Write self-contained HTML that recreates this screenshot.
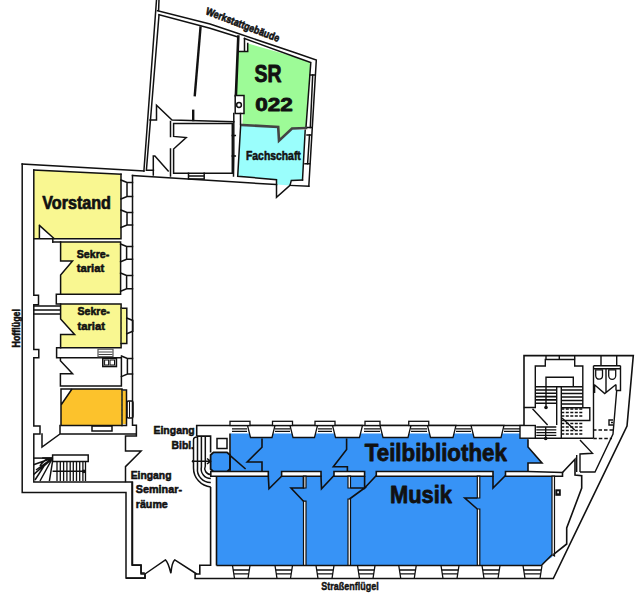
<!DOCTYPE html>
<html><head><meta charset="utf-8">
<style>
html,body{margin:0;padding:0;background:#fff;}
svg{display:block;}
</style></head><body>
<svg width="639" height="600" viewBox="0 0 639 600">
<rect width="639" height="600" fill="#fff"/>
<g stroke="none">
<polygon fill="#9dfb97" points="238.3,51.6 247.7,51.6 247.7,43.5 296,57.2 310.8,62.5 306,127 292,128.5 279,140.7 278.2,127 242.5,124.5 243,113.5 244,113.5 244,95.5 236,95.5"/>
<polygon fill="#9afefc" points="240.7,124.5 278.2,127.2 279,140.7 291.7,128.7 305.2,130.2 302.5,180 291.3,180.4 290,185.4 276.5,184.6 276.5,179.7 237.7,176.2"/>
<polygon fill="#f9f791" points="34,170 121,174.2 121,238.7 54.3,238.7 39.4,225.4 39.4,238.7 34,238.7"/>
<polygon fill="#f9f791" points="60.6,242 120.6,242 120.6,294.2 60.6,294.2 60.6,275 72.5,261 60.6,261"/>
<polygon fill="#f9f791" points="60.6,304.1 121.1,304.1 121.1,347.7 60.6,347.7 60.6,334.4 74.6,334.4 60.6,319"/>
<polygon fill="#f9f791" points="121.1,308.3 126.8,308.3 126.8,343.5 121.1,343.5"/>
<polygon fill="#fcc22c" points="61,389 122,389 122,425.6 61,425.6 61,405 72,389"/>
<polygon fill="#fcc22c" points="122,391 126,391 126,424 122,424"/>
<polygon fill="#3793f6" points="230.5,433.5 528,433.5 528,447 542,463 528,463 528,472 552.4,472 552.4,556.7 540,565.5 216.5,565.5 216.5,472 230,472"/>
<path fill="#3793f6" stroke="#111" stroke-width="1.8" d="M213.5,452.3 L227,452.3 L230,455 L230,469 L227,471.7 L213.5,471.7 L210.6,469 L210.6,455 Z"/>
</g>
<g fill="none" stroke="#111" stroke-width="1.5" stroke-linejoin="miter" stroke-linecap="square">

<path d="M156.5,0 L143.9,171"/>
<path d="M159,0 L158.6,10.5"/>
<path d="M159,15 L146.4,170.3 L153.4,170.3"/>
<path d="M157.5,10.8 L210,24 L236,32.8 L296,53 L316.3,60 L308.8,186.3"/>
<path d="M159,14.6 L210,28.2 L238,37 M244.5,38.5 L296,57.2 L310.8,62.5 L306,127 M305.2,130.2 L302.5,180"/>
<path d="M132.5,175.6 L276.5,184.6 M290,185.4 L308.8,186.3"/>
<path d="M22.2,164 L143.9,171"/>


<path d="M200.5,27.5 L194.8,95.2" stroke-width="2.4"/>
<path d="M193.2,110.8 L193.2,120" stroke-width="2.4"/>
<path d="M150,120 L156.5,120 L156.5,105.3 L172,120 L233.8,121.7"/>
<path d="M238.3,36.5 L235.9,95.5" stroke-width="2.6"/>
<path d="M244.5,38.5 L244.5,51.6 M238.3,51.6 L247.7,51.6 L247.7,43.5"/>
<rect x="235.2" y="95.5" width="8.8" height="18" fill="#fff"/>
<circle cx="239" cy="105" r="2.4"/>
<path d="M233.8,113.5 L233.8,121.7 M233.8,121.7 L233.8,135.6 M233.8,156 L233.5,176 M240.5,113.5 L240.5,124.5"/>
<path d="M173.6,123.5 L232.3,123.5 L232.3,173.2 L173.6,173.2 L173.6,149 L186.2,137.6 L173.6,136.4 L173.6,123.5"/>
<path d="M170.5,121.5 L170.5,136.4 M170.5,149 L170.5,176"/>
<path d="M153.3,156 L154.9,156 L168.2,170.9 M153.3,156 L153.3,175"/>
<path d="M188.5,173.2 L188.5,179 L204.2,179 L204.2,173.2 M188.5,176 L204.2,176"/>
<path d="M235.3,135.6 L232.3,135.6 M235.3,156 L232.3,156 M233.8,135.6 L233.8,156"/>
<path d="M242.5,125 L278.2,127 L279,140.7 L292,128.5 L306,128" stroke-width="2.6" stroke="#444"/>
<path d="M240.7,124.5 L237.7,176.2 L276.5,179.7 L276.5,197.3 L290,185.4 L291.3,180.4 L302.5,180"/>
<path d="M310.3,75 L314.5,75 M307.5,127.5 L311.7,127.5 M307,135 L311.2,135 M305,163.7 L309.5,163.7"/>
<path d="M312.7,75 L310.3,127.5 M309.5,135 L307.6,163.7"/>


<path d="M22.2,164 L22.2,492.5 L126,492.5 L126,578 L145,578 L145,575"/>
<path d="M33.8,170 L121,174.2"/>
<path d="M33.8,170 L33.8,295.3 L38.5,295.3 L38.5,304.7 L33.8,304.7 L33.8,349.4 L38.8,349.4 L38.8,357.8 L33.8,357.8 L33.8,426 L40,426 L40,434 L33.8,434 L33.8,482 L132,482 L132,565 L141,565 L141,573 L144,573"/>
<path d="M132.5,175.6 L132.5,425.2 L136.4,425.2 L136.4,436.1 L125.5,436.1 L125.5,451 L141.1,451 L125.5,466.6 L125.5,481.5"/>
<path d="M121,174.2 L121,238.7 L34,238.7 M39.4,225.4 L54.3,238.7 M39.4,225.4 L39.4,238.7"/>
<path d="M52.8,242 L120.6,242 L120.6,294.2 L56.3,294.2 L56.3,304.1 L121.1,304.1 L121.1,347.7 L56.6,347.7 L56.6,357.8 L121.4,357.8 L121.4,386 L60.4,386 L60.4,373.8 L72.6,373.8 L60.4,360.7 L60.4,357.8"/>
<path d="M52.8,238.7 L52.8,242 M60.6,242 L60.6,261 L72.5,261 L60.6,275 L60.6,294.2"/>
<path d="M60.6,304.1 L60.6,319 L74.6,334.4 L60.6,334.4 L60.6,347.7"/>
<path d="M33.8,306 L60,306 M33.8,310 L60,310 M33.8,314 L60,314"/>
<path d="M61,389 L122,389 L122,425.6 L61,425.6 L61,405 L72,389 M61,389 L61,405"/>
<path d="M60,425.6 L60,434 L136,434 M60,434 L42,447 L42,434"/>
<rect x="92" y="426" width="20" height="5"/>
<rect x="98" y="349.2" width="15" height="7.5" fill="#fff" stroke="#555" stroke-width="1.2"/>
<path d="M99,352 L112,352 M99,354.5 L112,354.5" stroke="#444" stroke-width="1"/>
<rect x="102.8" y="358.3" width="13.6" height="8.2" fill="#fff" stroke-width="1.6"/>
<rect x="104.6" y="360" width="4" height="5" stroke-width="1"/><rect x="110" y="360" width="4.5" height="5" stroke-width="1"/>
<path d="M126.8,308.3 L126.8,343.5 M121.1,308.3 L126.8,308.3 M121.1,343.5 L126.8,343.5"/>
<rect x="127" y="401" width="6" height="17" rx="1.5"/><path d="M129.5,402 L129.5,417" stroke-width="1"/>
<path d="M122,390 L126.5,390 L126.5,425.6 L122,425.6"/>
<path d="M122,391 L122,425" stroke-dasharray="3,2" stroke="#553"/>
<path d="M121.1,309 L121.1,343" stroke-dasharray="3,2" stroke="#553"/>

<path d="M121,180 L127,182.5 L132.5,182.5 M121,199 L127,196.5 L132.5,196.5 M127,182.5 L127,196.5"/>
<path d="M121,210 L127,212.5 L132.5,212.5 M121,227.5 L127,225.0 L132.5,225.0 M127,212.5 L127,225.0"/>
<path d="M120.6,244 L126.6,246.5 L132.5,246.5 M120.6,261.8 L126.6,259.3 L132.5,259.3 M126.6,246.5 L126.6,259.3"/>
<path d="M120.6,273 L126.6,275.5 L132.5,275.5 M120.6,291.3 L126.6,288.8 L132.5,288.8 M126.6,275.5 L126.6,288.8"/>
<path d="M126.8,318 L132.8,320.5 L132.5,320.5 M126.8,333.7 L132.8,331.2 L132.5,331.2 M132.8,320.5 L132.8,331.2"/>
<path d="M121.4,356 L127.4,358.5 L132.5,358.5 M121.4,376.6 L127.4,374.1 L132.5,374.1 M127.4,358.5 L127.4,374.1"/>
</g>
<g fill="none" stroke="#111" stroke-width="1.6">

<path d="M196.7,436.1 L196.7,425.5 L524,425.5 L524,355.6 L633.3,355.6 L627,426 L553.3,578.5 L195.1,578.5 L195.1,574 L199.8,574 L199.8,565.3 L210.6,565.3 L210.6,487"/>
<path d="M196.7,436.1 L210.6,436.1 L210.6,452.6"/>
<path d="M230,433.5 L230,472"/>
<path d="M216.5,565.5 L216.5,476.2 L268.3,476.2 L269,488.7 L281.6,476.2 L321,476.2 L321.5,488.7 L334,475.5 M364.6,476.2 L364.6,488 L376.3,475.5 M493,476.2 L493,488 L505.5,475.5"/>
<path d="M528,471.5 L528,463 L542,463 L528,447 L528,439.2"/>
<g fill="#fff"><path d="M210.8,471.5 L268.3,471.5 L268.3,476.2 L216.5,476.2 L210.8,476.2 Z"/><path d="M281.6,471.5 L321,471.5 L321,476.2 L281.6,476.2 Z"/><path d="M334,471.5 L364.6,471.5 L364.6,476.2 L334,476.2 Z"/><path d="M376.3,471.5 L493,471.5 L493,476.2 L376.3,476.2 Z"/><path d="M505.5,471.5 L528,471.5 L562.5,472.5 L562.5,476.2 L505.5,476.2 Z"/>
<path d="M303.5,501.2 L306,501.2 L306,565.5 L303.5,565.5 Z" stroke-width="1.2"/><path d="M303.5,476.2 L306,476.2 L306,488 L303.5,488 Z" stroke-width="1.2"/><path d="M348,476.2 L350.5,476.2 L350.5,488 L348,488 Z M348,499 L350.5,499 L350.5,565.5 L348,565.5 Z" stroke-width="1.2"/><path d="M477.3,476.2 L479.8,476.2 L479.8,498 L477.3,498 Z M477.3,509 L479.8,509 L479.8,565.5 L477.3,565.5 Z" stroke-width="1.2"/>
<path d="M552,476.2 L554.5,476.2 L554.5,556 L552,554.7 Z" stroke-width="1.2"/></g>
<path d="M262,438.6 L262,447.2 L247.2,462 L262,462 L262,471.5"/>
<path d="M230.5,455.8 L245.6,469"/>
<path d="M346.6,438.6 L346.6,449.6 L333.3,466.8 L347.4,466.8 L347.4,471.5"/>
<path d="M303.5,476.2 L303.5,488 L291,488 L303.5,501.2"/>
<path d="M350.5,488 L364.6,488 L349.5,499"/>
<path d="M477.3,498 L464.8,498 L477.3,509"/>
<path d="M552,554.7 L541.3,565.5 L216.5,565.5"/>
<path d="M562.5,472.5 L575,459.2 L575,475 L581.7,475.8 L581.7,488 L566.7,528 L566.7,544 L553.3,554.7"/>

<rect x="555.3" y="489.3" width="5.5" height="6.5" fill="#111" stroke="none"/><rect x="557.3" y="491.3" width="1.6" height="2" fill="#fff" stroke="none"/>
</g>
<g fill="none" stroke="#111" stroke-width="1.4">

<path d="M523.8,407.5 L535.3,407.5 L535.3,366 L545.3,366 L545.3,359.5 L574.7,359.5 L574.7,366 L582.8,366 L582.8,407.7"/>
<path d="M546,359.3 L546,355.6 M574.7,359.3 L574.7,355.6 M559.3,355.6 L559.3,359.3"/>
<path d="M546,386.7 L546,377.3 L573.3,377.3 L573.3,386.7 M535.3,386.7 L582.8,386.7"/>
<path d="M535.3,390 L556.7,390 M535.3,393.3 L556.7,393.3 M535.3,396.6 L556.7,396.6 M535.3,399.9 L556.7,399.9 M535.3,403.2 L556.7,403.2" stroke-width="1.6"/>
<path d="M546,386.7 L546,407.3 M556.7,386.7 L556.7,425 M561.3,386.7 L561.3,438.2"/>
<path d="M561.3,390 L582.8,390 M561.3,393.5 L582.8,393.5 M561.3,397 L582.8,397 M561.3,400.5 L582.8,400.5 M561.3,404 L582.8,404" stroke-width="1.5"/>
<path d="M561.8,407.7 L589.8,407.7 L589.8,420.5 L561.8,420.5"/>
<path d="M532.5,408.8 L547.6,425 M562,418 L574.7,430"/>
<path d="M545.7,427 L545.7,438.8 M528.8,438.2 L593.3,438.2 "/>
<rect x="520" y="425.5" width="15.3" height="12.7" fill="#fff"/>
<path d="M593.5,365.7 L620.5,365.7 M593.5,368.7 L620.5,368.7 M593.5,365.7 L593.5,438 M620.5,365.7 L620.5,390.5 L616.7,390.5 L613,434 L595,472 L580,472"/>
<path d="M601,365.7 L601,355.6 M616.7,365.7 L616.7,355.6"/>
<path d="M606,368.7 L606,393 M594.2,384.5 L604.7,393.5 L616,384.5 M594.6,384.5 L594.6,393 M616,384.5 L616,390.5"/>
<path d="M595.7,369.8 L602.5,369.8 L602.5,375.8 A3.4,3.4 0 0 1 595.7,375.8 Z M608.7,369.8 L615.7,369.8 L615.7,375.8 A3.5,3.5 0 0 1 608.7,375.8 Z" stroke-width="1.3"/>
<path d="M613,420 L609,420 L609,425 L613,425 M611,422.5 L613,422.5"/>
<path d="M580,440 L592.5,453.3 L580,454 L580,472 M576.7,455 L576.7,472"/>

<circle cx="546" cy="407.5" r="1.8" fill="#111" stroke="none"/><circle cx="545.7" cy="438.5" r="1.8" fill="#111" stroke="none"/>
<path stroke-dasharray="3,1.5" d="M561.3,409 L582.8,409 M561.3,412.5 L582.8,412.5 M561.3,416 L582.8,416 M561.3,423.5 L582.8,423.5 M561.3,427 L582.8,427 M561.3,430.5 L582.8,430.5 M561.3,434 L582.8,434" stroke-width="1.4"/><path d="M536.3,427 L556.3,427 M536.3,429.8 L556.3,429.8 M536.3,432.6 L556.3,432.6 M536.3,435.4 L556.3,435.4" stroke-width="1.3"/>
<path stroke-dasharray="3.5,2" d="M593,430 L613,430 M593.3,438.5 L612,438.5" stroke-width="1.4"/>
</g>
<g fill="none" stroke="#111" stroke-width="1.5">

<path d="M132.5,481.5 L132.5,565.3 L141.1,565.3 L141.1,574 L145,574 L145,578.2 L126,578.2"/>
<path d="M145,574 L165.4,559.9 Q168,562 170.9,573.2 Q172,562 174.8,559.9 L196.7,574"/>
<path d="M193.5,440 Q193.5,437 197,437 M193.5,440 L193.5,468 A19,19 0 0 0 210.8,487"/>
<path d="M197.5,437 L197.5,468 A13,13 0 0 0 210.8,482.5"/>
<path d="M201.4,437 L201.4,467 A9.5,9.5 0 0 0 210.8,478.5"/>
<path d="M205.3,437 L205.3,466 A6,6 0 0 0 210.8,474.5"/>
<path d="M192.8,461.2 L210,461.2 M207,458.5 L210.5,461.2 L207,464"/>
<rect x="217" y="438.5" width="10" height="10"/>

<circle cx="193" cy="461.2" r="1.2" fill="#111" stroke="none"/>

<path d="M52.6,454.9 L88.2,454.9 L88.2,461.4 L52.6,461.4 Z"/>
<path d="M33.5,458.1 L52.6,458.1"/>
<path d="M52.6,458 L33.5,464.7 M52.6,458 L33.5,474.6 M52.6,458 L40,481 M52.6,461 L49.4,481 M52.6,458 L42.2,458 M52.6,458 L36,470 M52,459 L44,466 L35,480 M48,458.5 Q42,462 40,466"/>
<path d="M52.6,471.3 L85,471.3"/>

<circle cx="83.9" cy="471.3" r="1.9" fill="#111" stroke="none"/>
<path d="M57,461.4 L57,481" stroke-width="1.3"/>
<path d="M60.3,461.4 L60.3,481" stroke-width="1.3"/>
<path d="M63.6,461.4 L63.6,481" stroke-width="1.3"/>
<path d="M66.9,461.4 L66.9,481" stroke-width="1.3"/>
<path d="M70.2,461.4 L70.2,481" stroke-width="1.3"/>
<path d="M73.3,461.4 L73.3,481" stroke-width="1.3"/>
<path d="M76.5,461.4 L76.5,481" stroke-width="1.3"/>
<path d="M79.7,461.4 L79.7,481" stroke-width="1.3"/>
<path d="M82.9,461.4 L82.9,481" stroke-width="1.3"/>
<path d="M85.5,461.4 L85.5,481" stroke-width="1.3"/>
</g>
<g fill="#fff" stroke="#111" stroke-width="1.3">
<polygon points="247.5,425.5 275,425.5 272,437.5 250.5,437.5"/>
<polygon points="290,425.5 317.5,425.5 314.5,437.5 293,437.5"/>
<polygon points="332.5,425.5 362.5,425.5 359.5,437.5 335.5,437.5"/>
<polygon points="380,425.5 411,425.5 408,437.5 383,437.5"/>
<polygon points="427.5,425.5 456,425.5 453,437.5 430.5,437.5"/>
<polygon points="471,425.5 504,425.5 501,437.5 474,437.5"/>
<rect x="230" y="421.3" width="20" height="4.2"/>
<rect x="272.5" y="421.3" width="20.0" height="4.2"/>
<rect x="315" y="421.3" width="20" height="4.2"/>
<rect x="365" y="421.3" width="15" height="4.2"/>
<rect x="408.75" y="421.3" width="20.0" height="4.2"/>
<path fill="none" d="M232,428.8 L247,428.8 M232,431.3 L247,431.3"/>
<path fill="none" d="M275,428.8 L290,428.8 M275,431.3 L290,431.3"/>
<path fill="none" d="M318,428.8 L332,428.8 M318,431.3 L332,431.3"/>
<path fill="none" d="M364,428.8 L380,428.8 M364,431.3 L380,431.3"/>
<path fill="none" d="M411,428.8 L427,428.8 M411,431.3 L427,431.3"/>
<path fill="none" d="M456,428.8 L471,428.8 M456,431.3 L471,431.3"/>
<path fill="none" d="M504,428.8 L520,428.8 M504,431.3 L520,431.3"/>
<path fill="none" d="M232.5,565.5 L234.5,578.5 M250,565.5 L248,578.5 M233.3,570 L249.2,570 M233.9,573.8 L248.6,573.8"/>
<path fill="none" d="M275,565.5 L277,578.5 M292.5,565.5 L290.5,578.5 M275.8,570 L291.7,570 M276.4,573.8 L291.1,573.8"/>
<path fill="none" d="M316,565.5 L318,578.5 M334,565.5 L332,578.5 M316.8,570 L333.2,570 M317.4,573.8 L332.6,573.8"/>
<path fill="none" d="M357.5,565.5 L359.5,578.5 M375,565.5 L373,578.5 M358.3,570 L374.2,570 M358.9,573.8 L373.6,573.8"/>
<path fill="none" d="M398.75,565.5 L400.75,578.5 M416.25,565.5 L414.25,578.5 M399.55,570 L415.45,570 M400.15,573.8 L414.85,573.8"/>
<path fill="none" d="M441,565.5 L443,578.5 M459,565.5 L457,578.5 M441.8,570 L458.2,570 M442.4,573.8 L457.6,573.8"/>
<path fill="none" d="M482,565.5 L484,578.5 M500,565.5 L498,578.5 M482.8,570 L499.2,570 M483.4,573.8 L498.6,573.8"/>
<path fill="none" d="M523,565.5 L525,578.5 M542,565.5 L540,578.5 M523.8,570 L541.2,570 M524.4,573.8 L540.6,573.8"/>
</g>
<g font-family="Liberation Sans, sans-serif" font-weight="bold" fill="#111" stroke="#111" stroke-linejoin="round">
<text x="254.5" y="81.5" font-size="24" textLength="27" lengthAdjust="spacingAndGlyphs" stroke-width="0.9" >SR</text>
<text x="255.3" y="110.7" font-size="17.6" textLength="37.6" lengthAdjust="spacingAndGlyphs" stroke-width="0.8" >022</text>
<text x="246" y="159.7" font-size="12" textLength="54.8" lengthAdjust="spacingAndGlyphs" stroke-width="0.55" >Fachschaft</text>
<text x="42.2" y="209.4" font-size="17.8" textLength="68.8" lengthAdjust="spacingAndGlyphs" stroke-width="0.7" >Vorstand</text>
<text x="76.8" y="257.5" font-size="11.7" textLength="32.4" lengthAdjust="spacingAndGlyphs" stroke-width="0.6" >Sekre-</text>
<text x="76.8" y="271.9" font-size="11.7" textLength="27.4" lengthAdjust="spacingAndGlyphs" stroke-width="0.6" >tariat</text>
<text x="77.5" y="315" font-size="11.7" textLength="32.4" lengthAdjust="spacingAndGlyphs" stroke-width="0.6" >Sekre-</text>
<text x="77.5" y="329.7" font-size="11.7" textLength="27.5" lengthAdjust="spacingAndGlyphs" stroke-width="0.6" >tariat</text>
<text x="364.8" y="461" font-size="23.3" textLength="142" lengthAdjust="spacingAndGlyphs" stroke-width="0.8" >Teilbibliothek</text>
<text x="390" y="502.7" font-size="24" textLength="62" lengthAdjust="spacingAndGlyphs" stroke-width="0.8" >Musik</text>
<text x="153.5" y="434.2" font-size="11" textLength="41.2" lengthAdjust="spacingAndGlyphs" stroke-width="0.55" >Eingang</text>
<text x="171.5" y="448.5" font-size="11" textLength="22.5" lengthAdjust="spacingAndGlyphs" stroke-width="0.55" >Bibl.</text>
<text x="130.7" y="478.5" font-size="11" textLength="40.8" lengthAdjust="spacingAndGlyphs" stroke-width="0.55" >Eingang</text>
<text x="135.8" y="492.7" font-size="11" textLength="46.2" lengthAdjust="spacingAndGlyphs" stroke-width="0.55" >Seminar-</text>
<text x="135.8" y="507.7" font-size="11" textLength="32" lengthAdjust="spacingAndGlyphs" stroke-width="0.55" >räume</text>
<text x="321.3" y="590" font-size="11.5" textLength="57.5" lengthAdjust="spacingAndGlyphs" stroke-width="0.45" >Straßenflügel</text>
<text x="0" y="0" font-size="10.5" textLength="38.5" lengthAdjust="spacingAndGlyphs" stroke-width="0.55" transform="translate(19.5,347.5) rotate(-90)">Hofflügel</text>
<text x="0" y="0" font-size="10.5" textLength="78" lengthAdjust="spacingAndGlyphs" stroke-width="0.6" transform="translate(205,14) rotate(21)">Werkstattgebäude</text>
</g>
</svg>
</body></html>
